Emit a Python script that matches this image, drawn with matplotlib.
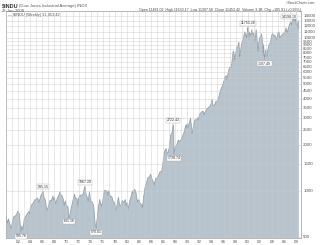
import matplotlib
matplotlib.use('Agg')
import matplotlib.pyplot as plt
from matplotlib.ticker import FixedLocator, NullFormatter

plt.rcParams['font.family'] = ['Liberation Sans', 'DejaVu Sans']

# Weekly DJIA (decimal year, close)
dates = [
    1960.0, 1960.25, 1960.4, 1960.75, 1960.85, 1961.0,
    1961.25, 1961.5, 1961.75, 1961.9, 1962.0,
    1962.2, 1962.45, 1962.6, 1962.8, 1963.0,
    1963.25, 1963.5, 1963.75, 1963.9, 1964.0,
    1964.25, 1964.5, 1964.75, 1965.0,
    1965.1, 1965.25, 1965.45, 1965.75, 1966.0,
    1966.1, 1966.3, 1966.5, 1966.75, 1967.0,
    1967.25, 1967.5, 1967.75, 1967.9, 1968.0,
    1968.2, 1968.5, 1968.75, 1968.9, 1969.0,
    1969.25, 1969.5, 1969.6, 1969.8, 1970.0,
    1970.25, 1970.4, 1970.5, 1970.75, 1971.0,
    1971.3, 1971.5, 1971.75, 1971.9, 1972.0,
    1972.25, 1972.5, 1972.75, 1972.95, 1973.05,
    1973.25, 1973.5, 1973.6, 1973.8, 1974.0,
    1974.25, 1974.5, 1974.75, 1974.95, 1975.0,
    1975.25, 1975.5, 1975.75, 1976.0,
    1976.25, 1976.4, 1976.5, 1976.75, 1976.85, 1977.0,
    1977.25, 1977.5, 1977.75, 1978.0,
    1978.15, 1978.25, 1978.6, 1978.85, 1979.0,
    1979.25, 1979.5, 1979.75, 1979.85, 1980.0,
    1980.2, 1980.5, 1980.75, 1980.9, 1981.0,
    1981.3, 1981.5, 1981.75, 1982.0,
    1982.25, 1982.5, 1982.6, 1982.75, 1983.0,
    1983.25, 1983.5, 1983.75, 1983.9, 1984.0,
    1984.25, 1984.5, 1984.55, 1984.75, 1985.0,
    1985.25, 1985.5, 1985.75, 1986.0,
    1986.25, 1986.5, 1986.6, 1986.75, 1987.0,
    1987.25, 1987.5, 1987.65, 1987.75, 1987.8, 1988.0,
    1988.25, 1988.5, 1988.75, 1989.0,
    1989.25, 1989.5, 1989.75, 1989.8, 1990.0,
    1990.1, 1990.25, 1990.55, 1990.8, 1991.0,
    1991.25, 1991.5, 1991.75, 1991.9, 1992.0,
    1992.25, 1992.5, 1992.75, 1992.8, 1993.0,
    1993.25, 1993.5, 1993.75, 1994.0,
    1994.1, 1994.25, 1994.5, 1994.75, 1995.0,
    1995.25, 1995.5, 1995.75, 1996.0,
    1996.25, 1996.5, 1996.55, 1996.75, 1997.0,
    1997.3, 1997.5, 1997.6, 1997.75, 1997.82, 1998.0,
    1998.25, 1998.5, 1998.55, 1998.7, 1998.75, 1999.0,
    1999.25, 1999.5, 1999.75, 1999.8, 2000.0,
    2000.05, 2000.2, 2000.25, 2000.5, 2000.7, 2000.75, 2001.0,
    2001.2, 2001.25, 2001.4, 2001.5, 2001.72, 2001.75, 2002.0,
    2002.25, 2002.3, 2002.5, 2002.55, 2002.65, 2002.78, 2003.0,
    2003.2, 2003.25, 2003.5, 2003.75, 2004.0,
    2004.15, 2004.25, 2004.5, 2004.8, 2005.0,
    2005.2, 2005.3, 2005.5, 2005.75, 2006.0,
    2006.25, 2006.35, 2006.5, 2006.55, 2006.75, 2007.0,
    2007.15, 2007.2, 2007.5, 2007.55, 2007.63, 2007.78, 2007.9, 2008.0,
    2008.05, 2008.2, 2008.25, 2008.35, 2008.47,
]
closes = [
    679, 616, 655, 580, 566, 615,
    676, 683, 701, 734, 731,
    706, 536, 590, 558, 652,
    682, 706, 732, 711, 762,
    813, 831, 875, 874,
    903, 889, 840, 930, 969,
    995, 900, 870, 744, 785,
    865, 860, 926, 870, 905,
    825, 897, 935, 985, 943,
    935, 873, 801, 860, 800,
    785, 631, 683, 760, 838,
    950, 891, 887, 797, 890,
    940, 929, 953, 1036, 1067,
    951, 891, 851, 987, 850,
    846, 802, 607, 570, 616,
    768, 878, 793, 852,
    999, 1011, 1002, 990, 930, 1004,
    919, 916, 847, 831,
    742, 757, 907, 792, 805,
    862, 841, 878, 796, 838,
    759, 867, 932, 1000, 964,
    1024, 976, 850, 875,
    822, 811, 777, 896, 1046,
    1130, 1222, 1233, 1287, 1259,
    1164, 1132, 1087, 1207, 1211,
    1267, 1336, 1329, 1547,
    1819, 1893, 1763, 1768, 1896,
    2305, 2419, 2722, 2596, 1739, 1939,
    1989, 2142, 2113, 2169,
    2293, 2440, 2693, 2570, 2753,
    2590, 2707, 2999, 2365, 2634,
    2914, 2907, 3017, 2900, 3169,
    3236, 3319, 3272, 3140, 3301,
    3435, 3516, 3555, 3754,
    3978, 3636, 3625, 3843, 3834,
    4158, 4556, 4789, 5117,
    5587, 5655, 5346, 5882, 6448,
    6391, 7673, 8223, 7945, 7161, 7908,
    8800, 8952, 9338, 7539, 7843, 9181,
    9786, 10971, 10337, 10020, 11497,
    11723, 9796, 10922, 10448, 11310, 10651, 10787,
    9389, 9879, 11337, 10502, 8236, 8848, 10022,
    10404, 10635, 9243, 7702, 9053, 7286, 8342,
    7524, 7992, 8985, 9275, 10454,
    10738, 10358, 10435, 9750, 10783,
    10940, 10012, 10275, 10569, 10718,
    11109, 11642, 11150, 10740, 11679, 12463,
    12787, 12050, 13408, 13861, 12846, 14164, 12743, 13265,
    12160, 11740, 12263, 13058, 11453,
]

# Marked highs / lows
note_dates = [1962.45, 1966.1, 1970.4, 1973.05, 1974.95, 1987.65, 1987.8, 2000.05, 2002.78, 2006.9]
note_values = [535.76, 995.15, 631.16, 1067.20, 570.01, 2722.42, 1738.74, 11750.28, 7197.49, 14198.10]
note_side = [-1, 1, 0, 1, -1, 1, -1, 1, -1, -0.5]

year_labels = list(range(1962, 2009, 2))
price_ticks = [500, 1000, 1500, 2000, 2500, 3000, 3500, 4000, 4500, 5000, 5500,
               6000, 6500, 7000, 7500, 8000, 8500, 9000, 9500, 10000, 11000,
               12000, 13000, 14000]

fill_color = '#b7c4ce'
line_color = '#8d9ba6'
text_color = '#555555'

fig = plt.figure(figsize=(3.2, 2.45), dpi=100)
ax = fig.add_axes([0.019, 0.029, 0.922, 0.926])

ax.set_yscale('log')
ax.set_xlim(1960.0, 2008.85)
ax.set_ylim(492, 15000)

ax.fill_between(dates, 300, closes, color=fill_color, lw=0, zorder=2)
ax.plot(dates, closes, color=line_color, lw=0.5, zorder=3)

# grid drawn over the fill, like the original
for yr in range(1960, 2009):
    ax.axvline(yr, color='#c9c9c9', lw=0.5, alpha=0.6, zorder=4)
for p in price_ticks:
    ax.axhline(p, color='#c9c9c9', lw=0.5, alpha=0.6, zorder=4)

ax.yaxis.set_minor_formatter(NullFormatter())
ax.yaxis.set_minor_locator(FixedLocator([]))
ax.yaxis.tick_right()
ax.set_yticks(price_ticks)
ax.set_yticklabels([str(p) for p in price_ticks])
ax.set_xticks(year_labels)
ax.set_xticklabels([f'{y % 100:02d}' for y in year_labels])
ax.tick_params(axis='both', length=0, labelsize=3.2, colors=text_color, pad=1.5)

for s in ax.spines.values():
    s.set_color('#9a9a9a')
    s.set_linewidth(0.5)

for d, v, side in zip(note_dates, note_values, note_side):
    ax.text(d, v * 1.065 ** side, f'{v:.2f}', fontsize=2.6, color='#333333',
            ha='center', va='center', zorder=6,
            bbox=dict(boxstyle='square,pad=0.15', fc='white', ec='#aaaaaa', lw=0.3))

# header
fig.text(0.006, 0.985, '$INDU', fontsize=4, fontweight='bold', color='#333333', va='top')
fig.text(0.058, 0.983, '(Dow Jones Industrial Average) INDX', fontsize=3, color='#555555', va='top')
fig.text(0.006, 0.962, '23-Jun-2008', fontsize=3, color='#555555', va='top')
fig.text(0.985, 0.997, '\u00a9StockCharts.com', fontsize=2.5, color='#555555', va='top', ha='right')
fig.text(0.94, 0.969,
         'Open 11481.02  High 11630.17  Low 11307.56  Close 11453.42  Volume 3.1B  Chg +105.91 (+0.93%)',
         fontsize=2.6, color='#444444', va='top', ha='right')
ax.text(0.008, 0.99, '\u2014 $INDU (Weekly) 11,453.42', transform=ax.transAxes,
        fontsize=2.8, color='#555555', va='top', zorder=7)

fig.savefig('out.png', dpi=100)
